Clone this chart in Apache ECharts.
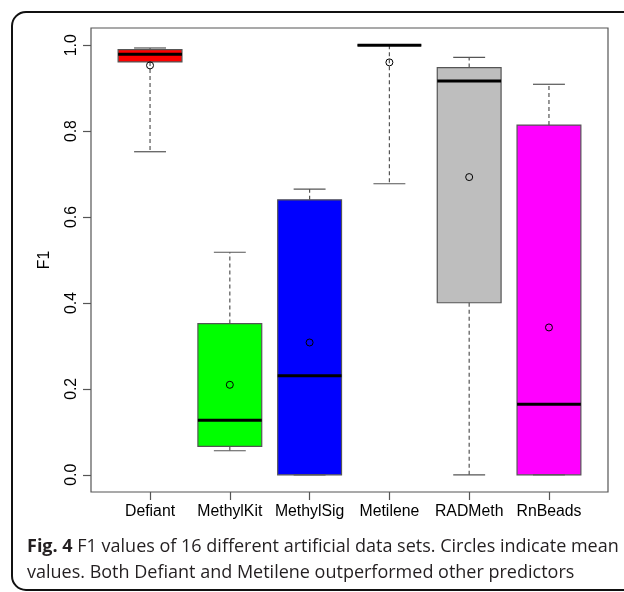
<!DOCTYPE html>
<html lang="en">

<head>
    <meta charset="UTF-8">
    <title>F1 boxplot</title>
    <script src="https://cdn.jsdelivr.net/npm/echarts/dist/echarts.min.js"></script>
    <style>
        body { margin: 0; background: #fff; }
        #main { width: 624px; height: 592px; }
    </style>
</head>

<body>
    <div id="main"></div>

    <script>
        // data
        const methods = ['Defiant', 'MethylKit', 'MethylSig', 'Metilene', 'RADMeth', 'RnBeads'];
        const boxColors = ['#ff0000', '#00ff00', '#0000ff', '#ffa500', '#bebebe', '#ff00ff'];
        const whiskerLow = [0.752, 0.056, 0.0, 0.6775, 0.0, 0.0];
        const q1 = [0.961, 0.066, 0.0, 1.0, 0.4005, 0.0];
        const median = [0.979, 0.127, 0.2305, 1.0, 0.9165, 0.1645];
        const q3 = [0.9895, 0.352, 0.640, 1.0, 0.948, 0.814];
        const whiskerHigh = [0.9935, 0.518, 0.665, 1.0, 0.9717, 0.909];
        const means = [0.953, 0.2095, 0.308, 0.960, 0.693, 0.343];
        const yTicks = [0, 0.2, 0.4, 0.6, 0.8, 1.0];
        const xTicks = [1, 2, 3, 4, 5, 6];

        const data = methods.map((m, i) => [i + 1, whiskerLow[i], q1[i], median[i], q3[i], whiskerHigh[i], means[i]]);

        const myChart = echarts.init(document.getElementById('main'));

        function renderBox(params, api) {
            const i = params.dataIndex;
            const x = api.value(0);
            const lo = api.value(1), a = api.value(2), md = api.value(3), b = api.value(4), hi = api.value(5), mn = api.value(6);
            const half = 0.4, cap = 0.2;
            const pLo = api.coord([x, lo]);
            const pA = api.coord([x, a]);
            const pB = api.coord([x, b]);
            const pHi = api.coord([x, hi]);
            const left = api.coord([x - half, b]);
            const right = api.coord([x + half, a]);
            const capL = api.coord([x - cap, 0])[0];
            const capR = api.coord([x + cap, 0])[0];
            const medY = api.coord([x, md])[1];
            const mean = api.coord([x, mn]);
            const grey = '#555';
            return {
                type: 'group',
                children: [
                    {
                        type: 'rect',
                        shape: { x: left[0], y: left[1], width: right[0] - left[0], height: right[1] - left[1] },
                        style: { fill: boxColors[i], stroke: grey, lineWidth: 1.2 }
                    },
                    {
                        type: 'line',
                        shape: { x1: pB[0], y1: pB[1], x2: pHi[0], y2: pHi[1] },
                        style: { stroke: grey, lineWidth: 1.2, lineDash: [4, 3] }
                    },
                    {
                        type: 'line',
                        shape: { x1: pA[0], y1: pA[1], x2: pLo[0], y2: pLo[1] },
                        style: { stroke: grey, lineWidth: 1.2, lineDash: [4, 3] }
                    },
                    {
                        type: 'line',
                        shape: { x1: capL, y1: pHi[1], x2: capR, y2: pHi[1] },
                        style: { stroke: grey, lineWidth: 1.2 }
                    },
                    {
                        type: 'line',
                        shape: { x1: capL, y1: pLo[1], x2: capR, y2: pLo[1] },
                        style: { stroke: grey, lineWidth: 1.2 }
                    },
                    {
                        type: 'line',
                        shape: { x1: left[0], y1: medY, x2: right[0], y2: medY },
                        style: { stroke: '#000', lineWidth: 3 }
                    },
                    {
                        type: 'circle',
                        shape: { cx: mean[0], cy: mean[1], r: 3.5 },
                        style: { fill: 'none', stroke: '#000', lineWidth: 1 }
                    }
                ]
            };
        }

        const option = {
            animation: false,
            grid: {
                left: 91, top: 28, right: 16, bottom: 100,
                show: true, borderColor: '#555', borderWidth: 1.2, backgroundColor: 'transparent'
            },
            xAxis: {
                type: 'value',
                min: 0.26,
                max: 6.74,
                axisLine: { show: false, onZero: false },
                splitLine: { show: false },
                axisTick: { show: true, customValues: xTicks, length: 8, lineStyle: { color: '#555', width: 1.2 } },
                axisLabel: {
                    customValues: xTicks,
                    margin: 12,
                    fontFamily: 'Liberation Sans',
                    fontSize: 15.8,
                    color: '#000',
                    formatter: v => methods[Math.round(v) - 1]
                }
            },
            yAxis: {
                type: 'value',
                min: -0.04,
                max: 1.04,
                name: 'F1',
                nameLocation: 'middle',
                nameRotate: 90,
                nameGap: 38,
                nameTextStyle: { fontFamily: 'Liberation Sans', fontSize: 15.8, color: '#000' },
                axisLine: { show: false, onZero: false },
                splitLine: { show: false },
                axisTick: { show: true, customValues: yTicks, length: 8, lineStyle: { color: '#555', width: 1.2 } },
                axisLabel: {
                    customValues: yTicks,
                    rotate: 90,
                    margin: 11,
                    fontFamily: 'Liberation Sans',
                    fontSize: 15.8,
                    color: '#000',
                    formatter: v => v.toFixed(1)
                }
            },
            graphic: [
                {
                    type: 'rect',
                    shape: { x: 12, y: 12, width: 700, height: 578, r: 14 },
                    style: { fill: 'none', stroke: '#111', lineWidth: 2 },
                    silent: true
                },
                {
                    type: 'text',
                    left: 27,
                    top: 534,
                    style: {
                        text: '{b|Fig. 4} F1 values of 16 different artificial data sets. Circles indicate mean\nvalues. Both Defiant and Metilene outperformed other predictors',
                        fontFamily: 'Open Sans',
                        fontSize: 18,
                        lineHeight: 26,
                        fill: '#231f20',
                        rich: {
                            b: { fontFamily: 'Open Sans', fontWeight: 'bold', fontSize: 18, lineHeight: 26, fill: '#231f20' }
                        }
                    }
                }
            ],
            series: [{
                type: 'custom',
                renderItem: renderBox,
                encode: { x: 0, y: [1, 2, 3, 4, 5, 6] },
                data: data
            }]
        };

        myChart.setOption(option);
    </script>
</body>

</html>
